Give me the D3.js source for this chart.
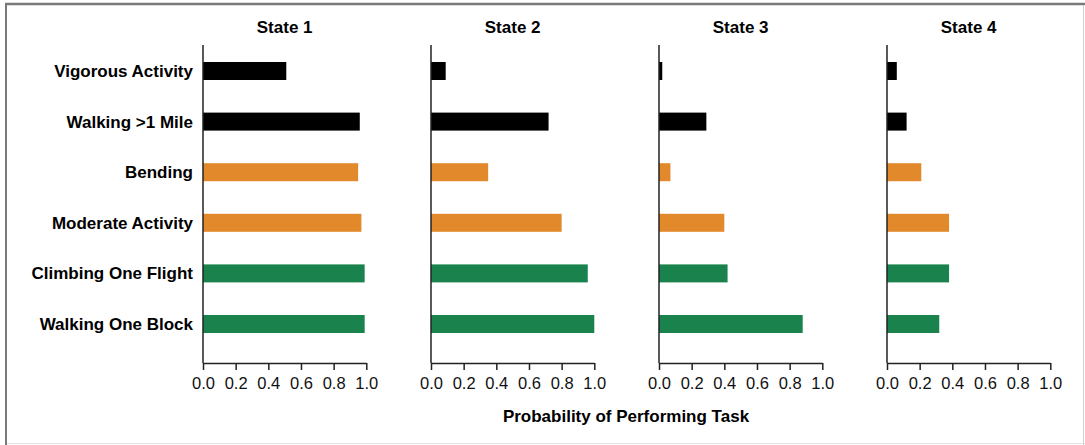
<!DOCTYPE html>
<html>
<head>
<meta charset="utf-8">
<script src="https://cdn.jsdelivr.net/npm/d3@7"></script>
<style>
  html, body { margin: 0; padding: 0; background: #fff; }
  svg { display: block; font-family: "Liberation Sans", Arial, sans-serif; }
</style>
</head>
<body>
<div id="chart"></div>
<script>
// Data
const states = ["State 1", "State 2", "State 3", "State 4"];
const tasks = ["Vigorous Activity", "Walking >1 Mile", "Bending",
               "Moderate Activity", "Climbing One Flight", "Walking One Block"];
const taskGroup = ["hard", "hard", "mid", "mid", "easy", "easy"];
const state1 = [0.51, 0.96, 0.95, 0.97, 0.99, 0.99];
const state2 = [0.09, 0.72, 0.35, 0.80, 0.96, 1.00];
const state3 = [0.02, 0.29, 0.07, 0.40, 0.42, 0.88];
const state4 = [0.06, 0.12, 0.21, 0.38, 0.38, 0.32];
const tickVals = [0, 0.2, 0.4, 0.6, 0.8, 1.0];

const values = [state1, state2, state3, state4];
const colors = { hard: "#000000", mid: "#E1892B", easy: "#1A834D" };

const W = 1085, H = 445;
const panelLeft = 203, panelStep = 228, panelW = 163.3;
const axisTop = 45, axisBottom = 363;
const barH = 18;

const svg = d3.select("#chart").append("svg")
    .attr("width", W)
    .attr("height", H);

// frame around the figure
svg.append("rect")
    .attr("x", 0).attr("y", 0).attr("width", W).attr("height", H)
    .attr("fill", "#fff");
svg.append("line").attr("x1", 6).attr("x2", 6).attr("y1", 3).attr("y2", H)
    .attr("stroke", "#7a7a7a").attr("stroke-width", 2);
svg.append("line").attr("x1", 5).attr("x2", W).attr("y1", 4).attr("y2", 4)
    .attr("stroke", "#7a7a7a").attr("stroke-width", 2.5);
svg.append("line").attr("x1", W - 1.5).attr("x2", W - 1.5).attr("y1", 5).attr("y2", H)
    .attr("stroke", "#d0d0d0").attr("stroke-width", 1);
svg.append("line").attr("x1", 7).attr("x2", W).attr("y1", H - 1.5).attr("y2", H - 1.5)
    .attr("stroke", "#e2e2e2").attr("stroke-width", 1);

const y = d3.scalePoint()
    .domain(tasks)
    .range([71, 324]);

states.forEach(function (st, i) {
    const x0 = panelLeft + i * panelStep;
    const x = d3.scaleLinear().domain([0, 1]).range([x0, x0 + panelW]);
    const g = svg.append("g").attr("class", "panel");

    // title
    g.append("text")
        .attr("x", x(0.5))
        .attr("y", 33)
        .attr("text-anchor", "middle")
        .style("font-size", "17px")
        .style("font-weight", "bold")
        .text(st);

    // bars
    g.selectAll("rect.bar")
        .data(tasks)
        .enter()
        .append("rect")
        .attr("class", "bar")
        .attr("x", x(0))
        .attr("y", d => y(d) - barH / 2)
        .attr("width", (d, j) => x(values[i][j]) - x(0))
        .attr("height", barH)
        .attr("fill", (d, j) => colors[taskGroup[j]]);

    // vertical axis line
    g.append("line")
        .attr("x1", x(0)).attr("x2", x(0))
        .attr("y1", axisTop).attr("y2", axisBottom)
        .attr("stroke", "#222").attr("stroke-width", 1.5);

    // x axis
    const ax = g.append("g")
        .attr("transform", `translate(0,${axisBottom})`)
        .call(d3.axisBottom(x)
            .tickValues(tickVals)
            .tickFormat(d3.format(".1f"))
            .tickSize(7)
            .tickSizeOuter(0)
            .tickPadding(7));
    ax.select(".domain").attr("stroke", "#222").attr("stroke-width", 1.5);
    ax.selectAll(".tick line").attr("stroke", "#222").attr("stroke-width", 1.5);
    ax.selectAll(".tick text")
        .attr("fill", "#111")
        .style("font-size", "16.5px")
        .style("font-family", "\"Liberation Sans\", Arial, sans-serif");
});

// category labels
svg.selectAll("text.cat")
    .data(tasks)
    .enter()
    .append("text")
    .attr("class", "cat")
    .attr("x", 193)
    .attr("y", d => y(d))
    .attr("dy", "0.35em")
    .attr("text-anchor", "end")
    .style("font-size", "17px")
    .style("font-weight", "bold")
    .text(d => d);

// x axis title
svg.append("text")
    .attr("x", 626)
    .attr("y", 422)
    .attr("text-anchor", "middle")
    .style("font-size", "17px")
    .style("font-weight", "bold")
    .text("Probability of Performing Task");
</script>
</body>
</html>
